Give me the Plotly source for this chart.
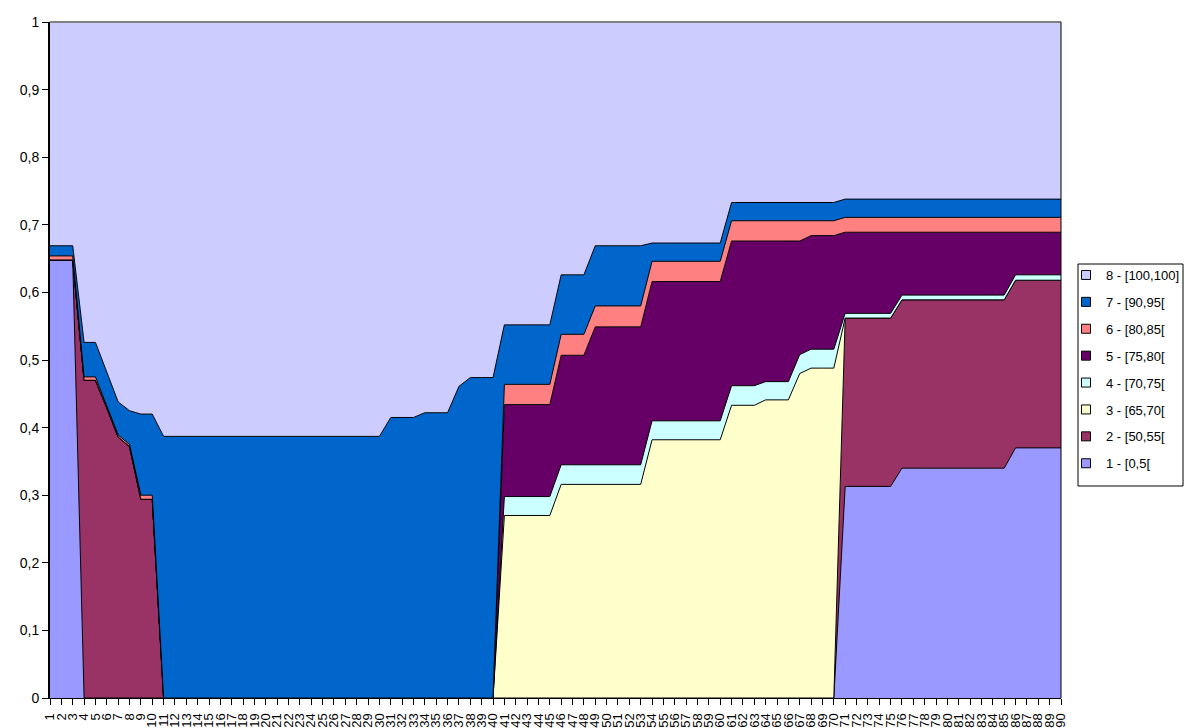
import plotly.graph_objects as go

categories = list(range(1, 91))

# series values (fractions) per category 1..90, ten per row
s1 = [0.648, 0.648, 0.648, 0, 0, 0, 0, 0, 0, 0,
      0, 0, 0, 0, 0, 0, 0, 0, 0, 0,
      0, 0, 0, 0, 0, 0, 0, 0, 0, 0,
      0, 0, 0, 0, 0, 0, 0, 0, 0, 0,
      0, 0, 0, 0, 0, 0, 0, 0, 0, 0,
      0, 0, 0, 0, 0, 0, 0, 0, 0, 0,
      0, 0, 0, 0, 0, 0, 0, 0, 0, 0,
      0.313, 0.313, 0.313, 0.313, 0.313, 0.340, 0.340, 0.340, 0.340, 0.340,
      0.340, 0.340, 0.340, 0.340, 0.340, 0.370, 0.370, 0.370, 0.370, 0.370]

s2 = [0, 0, 0, 0.470, 0.470, 0.429, 0.386, 0.372, 0.294, 0.294,
      0, 0, 0, 0, 0, 0, 0, 0, 0, 0,
      0, 0, 0, 0, 0, 0, 0, 0, 0, 0,
      0, 0, 0, 0, 0, 0, 0, 0, 0, 0,
      0, 0, 0, 0, 0, 0, 0, 0, 0, 0,
      0, 0, 0, 0, 0, 0, 0, 0, 0, 0,
      0, 0, 0, 0, 0, 0, 0, 0, 0, 0,
      0.249, 0.249, 0.249, 0.249, 0.249, 0.249, 0.249, 0.249, 0.249, 0.249,
      0.249, 0.249, 0.249, 0.249, 0.249, 0.248, 0.248, 0.248, 0.248, 0.248]

s3 = [0, 0, 0, 0, 0, 0, 0, 0, 0, 0,
      0, 0, 0, 0, 0, 0, 0, 0, 0, 0,
      0, 0, 0, 0, 0, 0, 0, 0, 0, 0,
      0, 0, 0, 0, 0, 0, 0, 0, 0, 0,
      0.270, 0.270, 0.270, 0.270, 0.270, 0.316, 0.316, 0.316, 0.316, 0.316,
      0.316, 0.316, 0.316, 0.382, 0.382, 0.382, 0.382, 0.382, 0.382, 0.382,
      0.433, 0.433, 0.433, 0.441, 0.441, 0.441, 0.480, 0.488, 0.488, 0.488,
      0, 0, 0, 0, 0, 0, 0, 0, 0, 0,
      0, 0, 0, 0, 0, 0, 0, 0, 0, 0]

s4 = [0, 0, 0, 0, 0, 0, 0, 0, 0, 0,
      0, 0, 0, 0, 0, 0, 0, 0, 0, 0,
      0, 0, 0, 0, 0, 0, 0, 0, 0, 0,
      0, 0, 0, 0, 0, 0, 0, 0, 0, 0,
      0.028, 0.028, 0.028, 0.028, 0.028, 0.029, 0.029, 0.029, 0.029, 0.029,
      0.029, 0.029, 0.029, 0.028, 0.028, 0.028, 0.028, 0.028, 0.028, 0.028,
      0.029, 0.029, 0.029, 0.027, 0.027, 0.027, 0.028, 0.028, 0.028, 0.028,
      0.007, 0.007, 0.007, 0.007, 0.007, 0.007, 0.007, 0.007, 0.007, 0.007,
      0.007, 0.007, 0.007, 0.007, 0.007, 0.008, 0.008, 0.008, 0.008, 0.008]

s5 = [0, 0, 0, 0, 0, 0, 0, 0, 0, 0,
      0, 0, 0, 0, 0, 0, 0, 0, 0, 0,
      0, 0, 0, 0, 0, 0, 0, 0, 0, 0,
      0, 0, 0, 0, 0, 0, 0, 0, 0, 0,
      0.136, 0.136, 0.136, 0.136, 0.136, 0.162, 0.162, 0.162, 0.204, 0.204,
      0.204, 0.204, 0.204, 0.206, 0.206, 0.206, 0.206, 0.206, 0.206, 0.206,
      0.214, 0.214, 0.214, 0.208, 0.208, 0.208, 0.168, 0.168, 0.168, 0.168,
      0.120, 0.120, 0.120, 0.120, 0.120, 0.093, 0.093, 0.093, 0.093, 0.093,
      0.093, 0.093, 0.093, 0.093, 0.093, 0.063, 0.063, 0.063, 0.063, 0.063]

s6 = [0.006, 0.006, 0.006, 0.005, 0.005, 0.003, 0.003, 0.003, 0.006, 0.006,
      0, 0, 0, 0, 0, 0, 0, 0, 0, 0,
      0, 0, 0, 0, 0, 0, 0, 0, 0, 0,
      0, 0, 0, 0, 0, 0, 0, 0, 0, 0,
      0.030, 0.030, 0.030, 0.030, 0.030, 0.031, 0.031, 0.031, 0.031, 0.031,
      0.031, 0.031, 0.031, 0.030, 0.030, 0.030, 0.030, 0.030, 0.030, 0.030,
      0.030, 0.030, 0.030, 0.030, 0.030, 0.030, 0.030, 0.022, 0.022, 0.022,
      0.022, 0.022, 0.022, 0.022, 0.022, 0.022, 0.022, 0.022, 0.022, 0.022,
      0.022, 0.022, 0.022, 0.022, 0.022, 0.022, 0.022, 0.022, 0.022, 0.022]

s7 = [0.015, 0.015, 0.015, 0.051, 0.051, 0.050, 0.049, 0.050, 0.120, 0.120,
      0.387, 0.387, 0.387, 0.387, 0.387, 0.387, 0.387, 0.387, 0.387, 0.387,
      0.387, 0.387, 0.387, 0.387, 0.387, 0.387, 0.387, 0.387, 0.387, 0.387,
      0.415, 0.415, 0.415, 0.422, 0.422, 0.422, 0.461, 0.474, 0.474, 0.474,
      0.088, 0.088, 0.088, 0.088, 0.088, 0.088, 0.088, 0.088, 0.089, 0.089,
      0.089, 0.089, 0.089, 0.027, 0.027, 0.027, 0.027, 0.027, 0.027, 0.027,
      0.027, 0.027, 0.027, 0.027, 0.027, 0.027, 0.027, 0.027, 0.027, 0.027,
      0.027, 0.027, 0.027, 0.027, 0.027, 0.027, 0.027, 0.027, 0.027, 0.027,
      0.027, 0.027, 0.027, 0.027, 0.027, 0.027, 0.027, 0.027, 0.027, 0.027]

s8 = [0.331, 0.331, 0.331, 0.474, 0.474, 0.518, 0.562, 0.575, 0.580, 0.580,
      0.613, 0.613, 0.613, 0.613, 0.613, 0.613, 0.613, 0.613, 0.613, 0.613,
      0.613, 0.613, 0.613, 0.613, 0.613, 0.613, 0.613, 0.613, 0.613, 0.613,
      0.585, 0.585, 0.585, 0.578, 0.578, 0.578, 0.539, 0.526, 0.526, 0.526,
      0.448, 0.448, 0.448, 0.448, 0.448, 0.374, 0.374, 0.374, 0.331, 0.331,
      0.331, 0.331, 0.331, 0.327, 0.327, 0.327, 0.327, 0.327, 0.327, 0.327,
      0.267, 0.267, 0.267, 0.267, 0.267, 0.267, 0.267, 0.267, 0.267, 0.267,
      0.262, 0.262, 0.262, 0.262, 0.262, 0.262, 0.262, 0.262, 0.262, 0.262,
      0.262, 0.262, 0.262, 0.262, 0.262, 0.262, 0.262, 0.262, 0.262, 0.262]

series_names = ["1 - [0,5[", "2 - [50,55[", "3 - [65,70[", "4 - [70,75[",
                "5 - [75,80[", "6 - [80,85[", "7 - [90,95[", "8 - [100,100]"]
series_colors = ["#9999FF", "#993366", "#FFFFCC", "#CCFFFF",
                 "#660066", "#FF8080", "#0066CC", "#CCCCFF"]
series_values = [s1, s2, s3, s4, s5, s6, s7, s8]

y_tickvals = [0, 0.1, 0.2, 0.3, 0.4, 0.5, 0.6, 0.7, 0.8, 0.9, 1]
y_ticktext = ["0", "0,1", "0,2", "0,3", "0,4", "0,5", "0,6", "0,7", "0,8", "0,9", "1"]

FONT = "Liberation Sans, Arial, sans-serif"

fig = go.Figure()
for name, col, vals in zip(series_names, series_colors, series_values):
    fig.add_trace(go.Scatter(
        x=categories, y=vals, stackgroup="one", mode="lines",
        line=dict(color="black", width=1, shape="linear"),
        fillcolor=col, name=name, showlegend=False, hoverinfo="skip"))

# legend entries with small square swatches (top = series 8)
for name, col in reversed(list(zip(series_names, series_colors))):
    fig.add_trace(go.Scatter(
        x=[None], y=[None], mode="markers", name=name, legendgroup=name,
        marker=dict(symbol="square", size=9, color=col,
                    line=dict(color="black", width=1)),
        showlegend=True))

L, R, T, B = 50, 123, 22, 30
W, H = 1184, 728
pw, ph = W - L - R, H - T - B

def px_x(x):
    return (x - L) / pw

def px_y(y):
    return (H - B - y) / ph

fig.update_layout(
    width=W, height=H,
    margin=dict(l=L, r=R, t=T, b=B, autoexpand=False),
    paper_bgcolor="white", plot_bgcolor="white",
    font=dict(family=FONT, color="black"),
    showlegend=True,
    legend=dict(x=px_x(1066), xanchor="left", y=px_y(260), yanchor="top",
                traceorder="grouped", tracegroupgap=7,
                font=dict(family=FONT, size=13, color="black"),
                bgcolor="rgba(0,0,0,0)", borderwidth=0, itemwidth=30),
    xaxis=dict(range=[1, 90], tickmode="array", tickvals=categories,
               ticktext=[str(c) for c in categories], tickangle=-90,
               tickfont=dict(family=FONT, size=13, color="black"),
               ticks="outside", ticklen=6, tickcolor="black",
               ticklabelstandoff=3,
               showgrid=False, zeroline=False, showline=True,
               linecolor="black", linewidth=1),
    yaxis=dict(range=[0, 1], tickmode="array", tickvals=y_tickvals,
               ticktext=y_ticktext,
               tickfont=dict(family=FONT, size=14, color="black"),
               ticks="outside", ticklen=6, tickcolor="black",
               showgrid=False, zeroline=False, showline=True,
               linecolor="black", linewidth=2),
    shapes=[
        dict(type="line", xref="paper", yref="paper", x0=0, x1=1, y0=1, y1=1,
             line=dict(color="#808080", width=2), layer="above"),
        dict(type="line", xref="paper", yref="paper", x0=1, x1=1, y0=0, y1=1,
             line=dict(color="black", width=1), layer="above"),
        dict(type="rect", xref="paper", yref="paper",
             x0=px_x(1078), x1=px_x(1183), y0=px_y(486), y1=px_y(264),
             line=dict(color="black", width=1), fillcolor="rgba(0,0,0,0)",
             layer="above"),
    ],
)

fig.write_html("out.html")
